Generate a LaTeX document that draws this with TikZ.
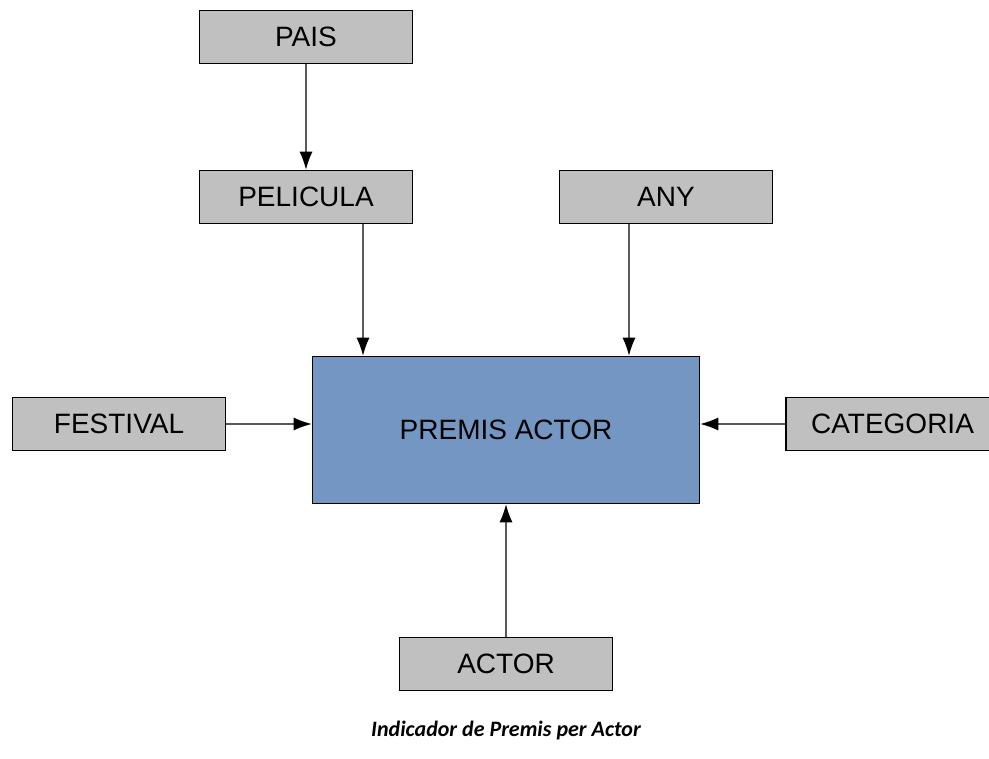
\documentclass[tikz,border=0pt]{standalone}
\usepackage{fontspec}
\setmainfont{Liberation Sans}
\newfontfamily\capfont{Carlito}
\usetikzlibrary{arrows.meta}

\definecolor{boxgray}{HTML}{C0C0C0}
\definecolor{factblue}{HTML}{7397C2}

\tikzset{
  dimbox/.style={draw=black,line width=1.6pt,fill=boxgray,minimum width=213pt,minimum height=53pt,inner sep=0pt,font=\fontsize{28}{32}\selectfont},
  factbox/.style={draw=black,line width=1.6pt,fill=factblue,minimum width=387pt,minimum height=147pt,inner sep=0pt,font=\fontsize{28}{32}\selectfont},
  conn/.style={draw=black!65,line width=1.2pt,-{Latex[length=18pt,width=13pt,black]}}
}

\begin{document}
\begin{tikzpicture}[x=1pt,y=-1pt]
            \useasboundingbox (0,0) rectangle (989,759);

            \node[factbox] (premis) at (506,430) {PREMIS ACTOR};

            \node[dimbox] (pais) at (306,37) {PAIS};
            \node[dimbox] (pelicula) at (306,197) {PELICULA};
            \node[dimbox] (any) at (666,197) {ANY};
            \node[dimbox] (festival) at (119,424) {FESTIVAL};
            \node[dimbox] (categoria) at (892.5,424) {CATEGORIA};
            \node[dimbox] (actor) at (506,664) {ACTOR};

            \draw[conn] (pais) -- (pelicula);
            \draw[conn] ([xshift=57pt]pelicula.south) -- ([xshift=57pt]pelicula.south |- premis.north);
            \draw[conn] ([xshift=-37pt]any.south) -- ([xshift=-37pt]any.south |- premis.north);
            \draw[conn] (festival.east) -- (festival.east -| premis.west);
            \draw[conn] (categoria.west) -- (categoria.west -| premis.east);
            \draw[conn] (actor) -- (premis);

            \node[font=\capfont\bfseries\itshape\fontsize{22}{26}\selectfont] (caption) at (506,731) {Indicador de Premis per Actor};
        \end{tikzpicture}
\end{document}
